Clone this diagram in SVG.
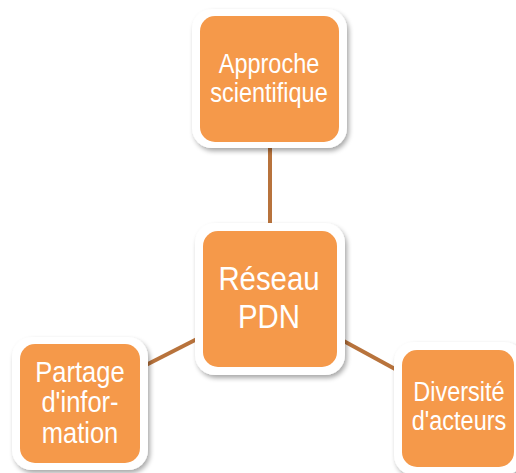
<svg xmlns="http://www.w3.org/2000/svg" width="516" height="473" viewBox="0 0 516 473">
<defs>
<filter id="sh" x="-20%" y="-20%" width="140%" height="140%">
<feGaussianBlur in="SourceAlpha" stdDeviation="2.5"/>
<feOffset dx="2" dy="3" result="b"/>
<feComponentTransfer><feFuncA type="linear" slope="0.35"/></feComponentTransfer>
<feMerge><feMergeNode/><feMergeNode in="SourceGraphic"/></feMerge>
</filter>
</defs>
<style>
.frame{fill:#ffffff;filter:url(#sh);}
.box{fill:#f5994a;}
.lbl{fill:#ffffff;font-family:"Liberation Sans",Arial,sans-serif;text-anchor:middle;}
.conn{stroke:#b8733c;stroke-width:4;fill:none;}
</style>
<rect width="516" height="473" fill="#ffffff"/>
<g id="connectors">
<line class="conn" x1="270" y1="146" x2="270" y2="232"/>
<line class="conn" x1="146" y1="365" x2="197" y2="339"/>
<line class="conn" x1="340" y1="339" x2="395" y2="369"/>
</g>
<g id="node-top">
<rect class="frame" x="192" y="9" width="155" height="139" rx="20"/>
<rect class="box" x="200" y="16" width="139" height="126" rx="15"/>
<text class="lbl" font-size="27" transform="matrix(0.87 0 0 1 269 0)"><tspan x="0" y="73">Approche</tspan><tspan x="0" y="102">scientifique</tspan></text>
</g>
<g id="node-center">
<rect class="frame" x="195" y="223" width="150" height="152" rx="20"/>
<rect class="box" x="203" y="231" width="134" height="136" rx="15"/>
<text class="lbl" font-size="33" transform="matrix(0.89 0 0 1 269 0)"><tspan x="0" y="290">Réseau</tspan><tspan x="0" y="328">PDN</tspan></text>
</g>
<g id="node-left">
<rect class="frame" x="12" y="337" width="136" height="133" rx="20"/>
<rect class="box" x="20" y="344" width="120" height="119" rx="15"/>
<text class="lbl" font-size="29" transform="matrix(0.88 0 0 1 80 0)"><tspan x="0" y="382">Partage</tspan><tspan x="0" y="412">d'infor-</tspan><tspan x="0" y="443">mation</tspan></text>
</g>
<g id="node-right">
<rect class="frame" x="394" y="342" width="130" height="133" rx="20"/>
<rect class="box" x="402" y="350" width="112" height="117" rx="15"/>
<text class="lbl" font-size="27" transform="matrix(0.87 0 0 1 459 0)"><tspan x="0" y="401">Diversité</tspan><tspan x="0" y="430">d'acteurs</tspan></text>
</g>
</svg>
